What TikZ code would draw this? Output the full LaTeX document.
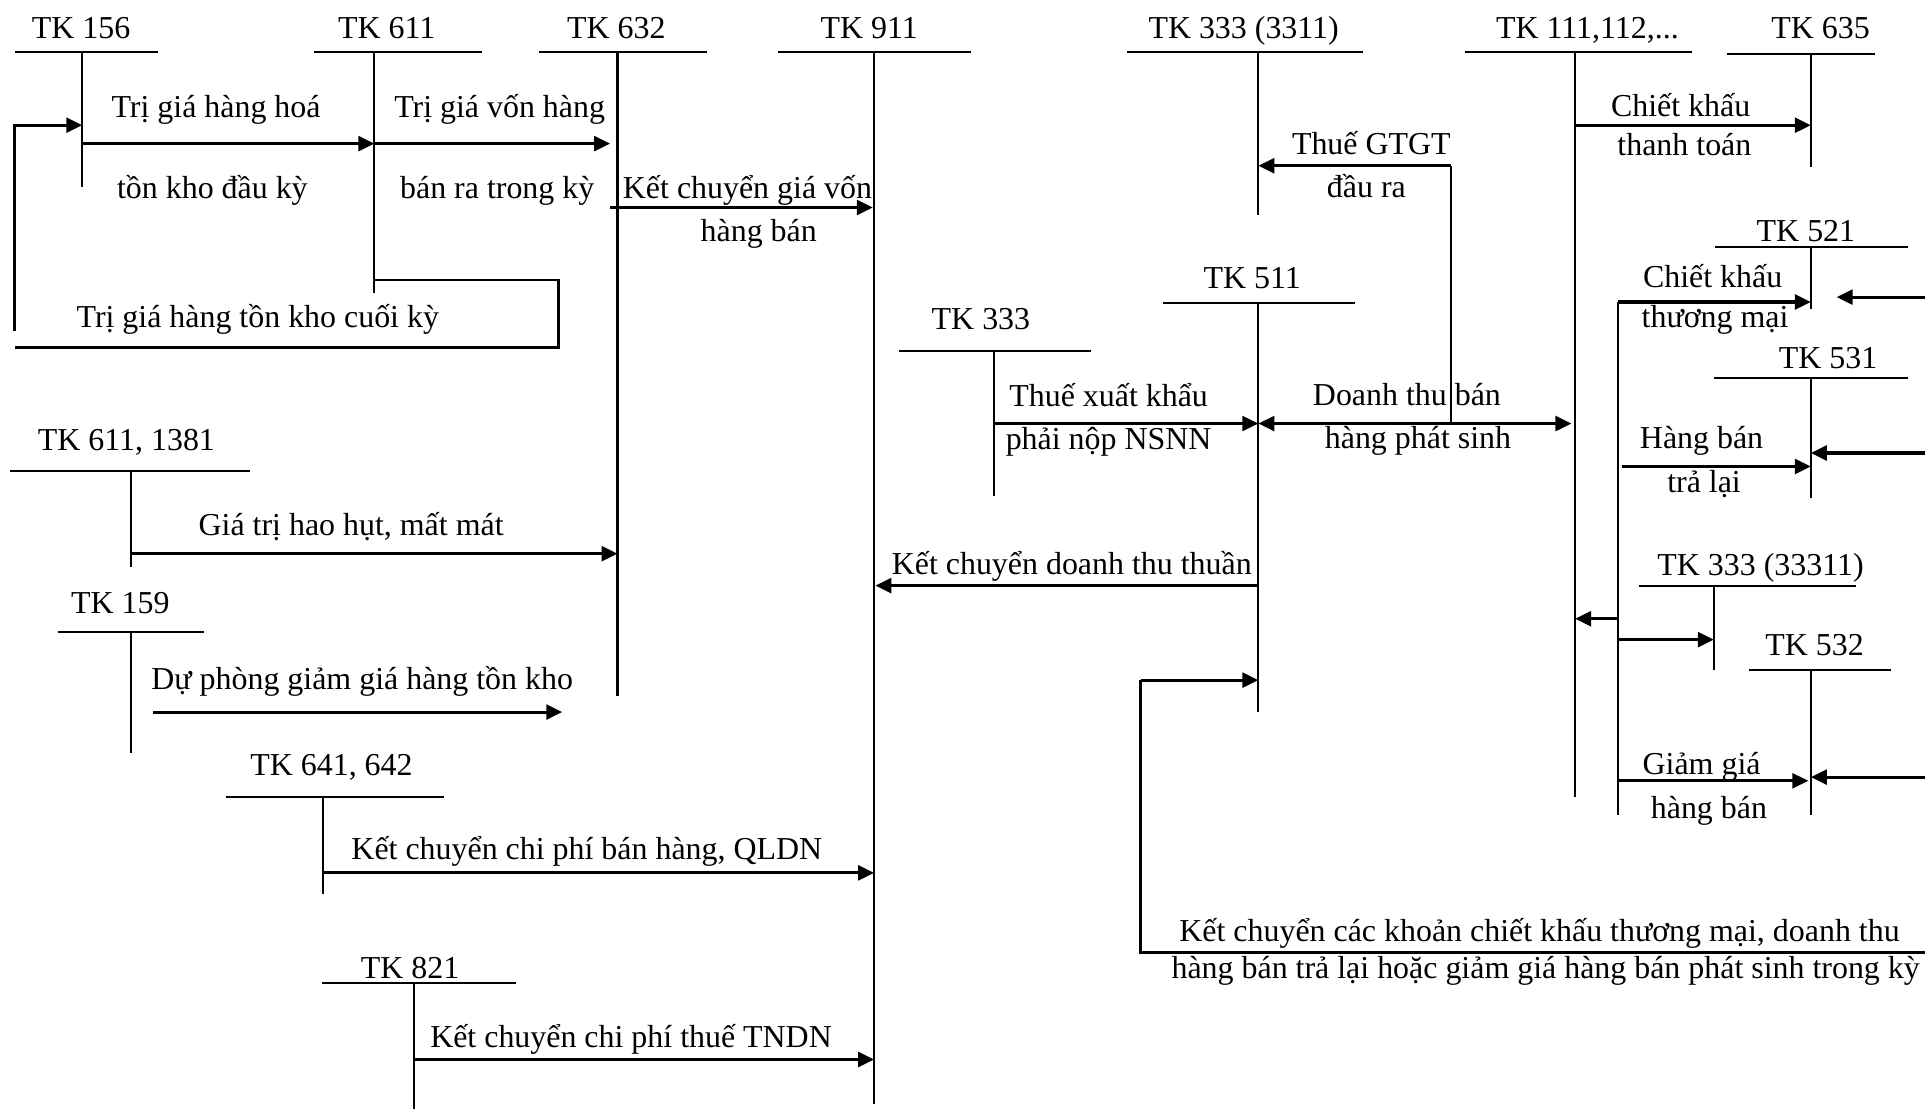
\documentclass[tikz,border=0pt]{standalone}
\usepackage{fontspec}
\setmainfont{Liberation Serif}
\usetikzlibrary{arrows.meta}
\begin{document}
\begin{tikzpicture}[x=0.5pt,y=-0.5pt,
  acct/.style={line width=0.85pt},
  rail/.style={line width=1pt},
  flow/.style={line width=1.25pt,-{Triangle[length=6.5pt,width=6pt]}},
  twoway/.style={line width=1.25pt,{Triangle[length=6.5pt,width=6pt]}-{Triangle[length=6.5pt,width=6pt]}},
  lbl/.style={anchor=base,inner sep=0pt,font=\fontsize{13pt}{15pt}\selectfont},
  lblw/.style={lbl,anchor=base west}]
\useasboundingbox (0,0) rectangle (1568,903);

% ---------- T-accounts: title, top rule, stem ----------
\node[lbl] (t156) at (66,31) {TK 156};
\draw[acct] (12,42) -- (129,42);  \draw[acct] (67,42) -- (67,152);
\node[lbl] (t611) at (315,31) {TK 611};
\draw[acct] (256,42) -- (393,42); \draw[acct] (305,42) -- (305,239);
\node[lbl] (t632) at (502,31) {TK 632};
\draw[acct] (439,42) -- (576,42); \draw[acct] (503,42) -- (503,567);
\node[lbl] (t911) at (708,31) {TK 911};
\draw[acct] (634,42) -- (791,42); \draw[acct] (712,42) -- (712,899);
\node[lbl] (t3311) at (1013,31) {TK 333 (3311)};
\draw[acct] (918,42) -- (1110,42); \draw[acct] (1025,42) -- (1025,175);
\node[lbl] (t111) at (1293,31) {TK 111,112,...};
\draw[acct] (1193,42) -- (1378,42); \draw[acct] (1283,42) -- (1283,649);
\node[lbl] (t635) at (1483,31) {TK 635};
\draw[acct] (1407,44) -- (1527,44); \draw[acct] (1475,44) -- (1475,136);
\node[lbl] (t521) at (1471,197) {TK 521};
\draw[acct] (1397,201) -- (1554,201); \draw[acct] (1475,201) -- (1475,252);
\node[lbl] (t511) at (1020,235) {TK 511};
\draw[acct] (947,247) -- (1104,247); \draw[acct] (1025,247) -- (1025,580);
\node[lbl] (t333) at (799,268) {TK 333};
\draw[acct] (732,286) -- (889,286); \draw[acct] (810,286) -- (810,404);
\node[lbl] (t531) at (1489,300) {TK 531};
\draw[acct] (1396,308) -- (1554,308); \draw[acct] (1475,308) -- (1475,406);
\node[lbl] (t33311) at (1434,469) {TK 333 (33311)};
\draw[acct] (1335,477) -- (1512,477); \draw[acct] (1396,477) -- (1396,546);
\node[lbl] (t532) at (1478,534) {TK 532};
\draw[acct] (1425,546) -- (1540,546); \draw[acct] (1475,546) -- (1475,664);
\node[lbl] (t1381) at (103,367) {TK 611, 1381};
\draw[acct] (8,384) -- (204,384); \draw[acct] (107,384) -- (107,462);
\node[lbl] (t159) at (98,500) {TK 159};
\draw[acct] (47,515) -- (166,515); \draw[acct] (107,515) -- (107,613);
\node[lbl] (t641) at (270,632) {TK 641, 642};
\draw[acct] (184,649) -- (362,649); \draw[acct] (263,649) -- (263,728);
\node[lbl] (t821) at (334,797) {TK 821};
\draw[acct] (262,801) -- (420,801); \draw[acct] (337,801) -- (337,903);

% ---------- flow points on the stems ----------
\coordinate (a156) at (67,117);   \coordinate (a611) at (305,117);
\coordinate (b632) at (497,117);
\coordinate (c611) at (305,228);  \coordinate (c156) at (67,102);
\coordinate (d632) at (497,169);  \coordinate (d911) at (711,169);
\coordinate (g3311) at (1025,135); \coordinate (gcorner) at (1182,135);
\coordinate (gfoot) at (1182,345);
\coordinate (k111) at (1283,102); \coordinate (k635) at (1475,102);
\coordinate (x333) at (810,345);  \coordinate (x511) at (1025,345);
\coordinate (r111) at (1280,345);
\coordinate (n511) at (1025,477); \coordinate (n911) at (713,477);
\coordinate (e511) at (1025,554);
\coordinate (railtop) at (1318,246); \coordinate (railbot) at (1318,664);
\coordinate (m521) at (1475,246);
\coordinate (h0) at (1321,380);   \coordinate (h531) at (1475,380);
\coordinate (q0) at (1318,504);   \coordinate (q111) at (1283,504);
\coordinate (v0) at (1318,521);   \coordinate (v33311) at (1396,521);
\coordinate (z0) at (1318,636);   \coordinate (z532) at (1473,636);
\coordinate (i521) at (1496,242); \coordinate (i531) at (1475,369);
\coordinate (i532) at (1475,633);
\coordinate (l1381) at (107,451); \coordinate (l632) at (503,451);
\coordinate (p0) at (125,580);    \coordinate (p1) at (458,580);
\coordinate (s641) at (263,711);  \coordinate (s911) at (712,711);
\coordinate (u821) at (337,863);  \coordinate (u911) at (712,863);

% ---------- left block ----------
\draw[flow] (a156) -- (a611);
\draw[flow] (a611) -- (b632);
\draw[rail] (c611) -- (455,228) -- (455,283) -- (12,283);
\draw[flow] (12,270) -- (12,102) -- (c156);
\draw[flow] (d632) -- (d911);
\draw[flow] (l1381) -- (l632);
\draw[flow] (p0) -- (p1);
\draw[flow] (s641) -- (s911);
\draw[flow] (u821) -- (u911);

\node[lbl] at (176,96) {Trị giá hàng hoá};
\node[lbl] at (173,162) {tồn kho đầu kỳ};
\node[lbl] at (407,96) {Trị giá vốn hàng};
\node[lbl] at (405,162) {bán ra trong kỳ};
\node[lbl] at (210,267) {Trị giá hàng tồn kho cuối kỳ};
\node[lblw] at (507,162) {Kết chuyển giá vốn};
\node[lbl] at (618,197) {hàng bán};
\node[lbl] at (286,436) {Giá trị hao hụt, mất mát};
\node[lbl] at (295,562) {Dự phòng giảm giá hàng tồn kho};
\node[lbl] at (478,700) {Kết chuyển chi phí bán hàng, QLDN};
\node[lbl] at (514,853) {Kết chuyển chi phí thuế TNDN};

% ---------- revenue block ----------
\draw[acct] (gfoot) -- (gcorner);
\draw[flow] (gcorner) -- (g3311);
\draw[flow] (k111) -- (k635);
\draw[flow] (x333) -- (x511);
\draw[twoway] (x511) -- (r111);
\draw[flow] (n511) -- (n911);
\draw[rail] (1568,776) -- (929,776) -- (929,554);
\draw[flow] (929,554) -- (e511);

\node[lbl] at (1117,126) {Thuế GTGT};
\node[lbl] at (1113,161) {đầu ra};
\node[lbl] at (1369,95) {Chiết khấu};
\node[lbl] at (1372,127) {thanh toán};
\node[lbl] at (903,331) {Thuế xuất khẩu};
\node[lbl] at (903,366) {phải nộp NSNN};
\node[lbl] at (1146,330) {Doanh thu bán};
\node[lbl] at (1155,365) {hàng phát sinh};
\node[lbl] at (873,468) {Kết chuyển doanh thu thuần};
\node[lbl] at (1254,767) {Kết chuyển các khoản chiết khấu thương mại, doanh thu};
\node[lbl] at (1259,797) {hàng bán trả lại hoặc giảm giá hàng bán phát sinh trong kỳ};

% ---------- deductions block ----------
\draw[rail] (railbot) -- (railtop);
\draw[flow] (railtop) -- (m521);
\draw[flow] (h0) -- (h531);
\draw[flow] (q0) -- (q111);
\draw[flow] (v0) -- (v33311);
\draw[flow] (z0) -- (z532);
\draw[flow] (1568,242) -- (i521);
\draw[flow] (1568,369) -- (i531);
\draw[flow] (1568,633) -- (i532);

\node[lbl] at (1395,234) {Chiết khấu};
\node[lbl] at (1397,267) {thương mại};
\node[lbl] at (1386,365) {Hàng bán};
\node[lbl] at (1388,401) {trả lại};
\node[lbl] at (1386,631) {Giảm giá};
\node[lbl] at (1392,667) {hàng bán};
\end{tikzpicture}
\end{document}
